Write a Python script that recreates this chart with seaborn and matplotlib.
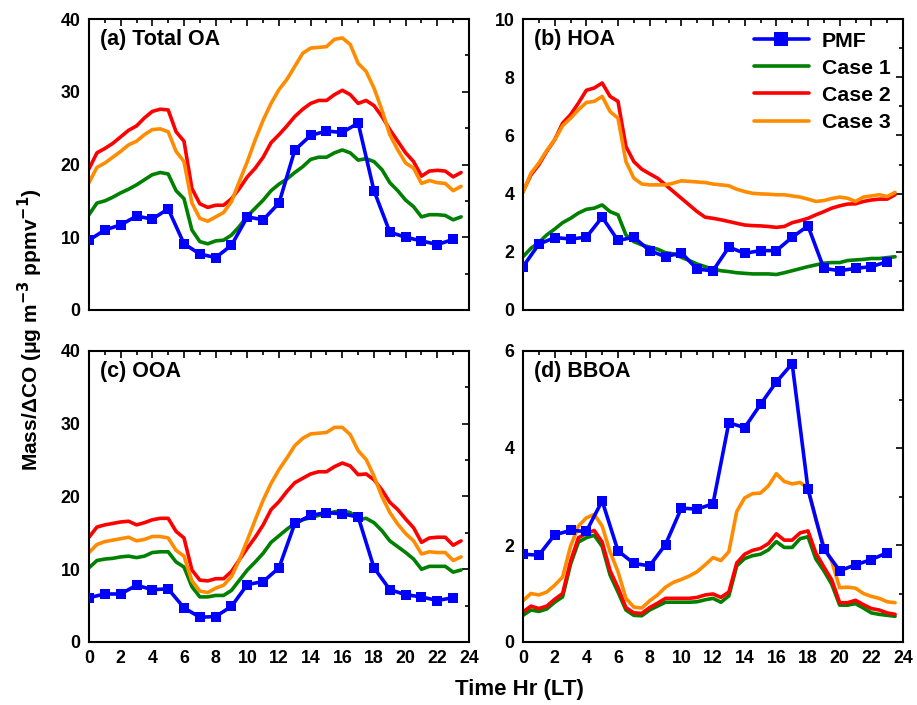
import numpy as np
import pandas as pd
import matplotlib
matplotlib.use("Agg")
import matplotlib.pyplot as plt
from matplotlib.ticker import MultipleLocator
import seaborn as sns

sns.set_theme(style="white")
plt.rcParams['font.family'] = ['Liberation Sans', 'DejaVu Sans']
plt.rcParams['font.weight'] = 'bold'
plt.rcParams['mathtext.default'] = 'bf'
plt.rcParams['text.color'] = 'black'
plt.rcParams['axes.labelcolor'] = 'black'

hours_pmf = list(range(24))
hours_case = [h / 2 for h in range(48)]

# (a) Total OA
oa_pmf = [9.6, 11.0, 11.7, 12.9, 12.5, 13.9, 9.1, 7.7, 7.2, 8.9, 12.8, 12.4, 14.7, 22.0,
          24.0, 24.6, 24.4, 25.7, 16.4, 10.7, 10.0, 9.5, 9.0, 9.7]
oa_c1 = [13.1, 14.7, 15.0, 15.5, 16.1, 16.6, 17.2, 17.9, 18.6, 18.9, 18.7, 16.4, 15.3, 11.0,
         9.4, 9.1, 9.5, 9.6, 10.3, 11.5, 12.9, 14.0, 15.1, 16.4, 17.3, 18.0, 18.9, 19.7,
         20.7, 21.0, 21.0, 21.6, 22.0, 21.6, 20.6, 20.8, 20.4, 19.3, 17.5, 16.4, 15.1, 14.2,
         12.8, 13.1, 13.1, 13.0, 12.4, 12.8]
oa_c2 = [19.4, 21.6, 22.2, 22.9, 23.8, 24.7, 25.3, 26.4, 27.3, 27.6, 27.5, 24.5, 23.2, 16.7,
         14.6, 14.1, 14.4, 14.4, 15.3, 16.7, 18.3, 19.5, 21.0, 23.0, 24.1, 25.3, 26.6, 27.6,
         28.4, 28.8, 28.8, 29.6, 30.2, 29.6, 28.4, 28.8, 28.1, 26.6, 24.8, 23.2, 21.6, 20.4,
         18.4, 19.1, 19.2, 19.1, 18.3, 18.9]
oa_c3 = [17.5, 19.6, 20.2, 21.0, 21.8, 22.7, 23.2, 24.1, 24.8, 24.9, 24.5, 21.8, 20.4, 14.7,
         12.6, 12.2, 12.8, 13.4, 14.9, 17.7, 20.4, 23.4, 26.1, 28.4, 30.3, 31.7, 33.5, 35.3,
         36.0, 36.1, 36.2, 37.2, 37.4, 36.5, 33.9, 32.8, 30.5, 27.5, 24.1, 22.0, 20.2, 19.5,
         17.4, 17.8, 17.5, 17.4, 16.4, 17.0]

# (b) HOA
hoa_pmf = [1.49, 2.26, 2.49, 2.44, 2.50, 3.19, 2.39, 2.50, 2.04, 1.83, 1.97, 1.40, 1.35, 2.16,
           1.95, 2.04, 2.04, 2.50, 2.89, 1.43, 1.35, 1.43, 1.49, 1.66]
hoa_c1 = [1.83, 2.12, 2.32, 2.58, 2.78, 3.00, 3.15, 3.33, 3.46, 3.50, 3.61, 3.38, 3.27, 2.58,
          2.35, 2.24, 2.16, 2.09, 1.97, 1.93, 1.81, 1.70, 1.58, 1.49, 1.40, 1.35, 1.32, 1.28,
          1.26, 1.24, 1.24, 1.24, 1.22, 1.28, 1.35, 1.42, 1.49, 1.55, 1.61, 1.63, 1.63, 1.70,
          1.72, 1.74, 1.77, 1.77, 1.80, 1.83]
hoa_c2 = [4.07, 4.64, 4.99, 5.45, 5.85, 6.42, 6.71, 7.11, 7.55, 7.63, 7.80, 7.34, 7.17, 5.62,
          5.10, 4.84, 4.68, 4.53, 4.30, 4.07, 3.84, 3.61, 3.38, 3.19, 3.15, 3.10, 3.04, 2.98,
          2.92, 2.90, 2.89, 2.87, 2.84, 2.87, 3.00, 3.07, 3.15, 3.27, 3.38, 3.50, 3.58, 3.64,
          3.65, 3.73, 3.78, 3.81, 3.81, 3.96]
hoa_c3 = [4.04, 4.70, 5.05, 5.48, 5.85, 6.33, 6.59, 6.88, 7.13, 7.17, 7.34, 6.82, 6.59, 5.10,
          4.53, 4.33, 4.30, 4.30, 4.30, 4.36, 4.44, 4.42, 4.40, 4.38, 4.33, 4.30, 4.27, 4.15,
          4.07, 4.01, 3.99, 3.98, 3.96, 3.96, 3.92, 3.88, 3.81, 3.73, 3.76, 3.83, 3.88, 3.84,
          3.73, 3.88, 3.92, 3.96, 3.90, 4.04]

# (c) OOA
ooa_pmf = [6.1, 6.6, 6.6, 7.8, 7.2, 7.3, 4.7, 3.4, 3.5, 4.9, 7.9, 8.3, 10.2, 16.3,
           17.4, 17.8, 17.6, 17.2, 10.2, 7.2, 6.5, 6.2, 5.7, 6.1]
ooa_c1 = [10.2, 11.2, 11.4, 11.5, 11.7, 11.8, 11.6, 11.8, 12.3, 12.4, 12.4, 11.0, 10.3, 7.6,
          6.2, 6.2, 6.4, 6.4, 7.1, 8.5, 9.9, 11.0, 12.2, 13.7, 14.6, 15.5, 16.3, 16.8,
          17.1, 17.4, 17.6, 17.9, 18.0, 17.8, 16.8, 17.0, 16.4, 15.3, 13.9, 13.1, 12.3, 11.4,
          10.0, 10.4, 10.4, 10.4, 9.6, 9.9]
ooa_c2 = [14.4, 15.8, 16.1, 16.3, 16.5, 16.6, 16.1, 16.4, 16.8, 17.0, 17.0, 15.2, 14.3, 9.9,
          8.5, 8.4, 8.7, 8.7, 9.7, 11.3, 12.9, 14.4, 16.1, 18.2, 19.3, 20.7, 21.9, 22.5,
          23.1, 23.4, 23.4, 24.1, 24.6, 24.2, 23.0, 23.1, 22.3, 20.9, 19.2, 18.2, 16.9, 15.7,
          13.7, 14.3, 14.4, 14.4, 13.3, 13.9]
ooa_c3 = [12.3, 13.4, 13.8, 14.0, 14.2, 14.4, 13.9, 14.1, 14.5, 14.5, 14.3, 12.6, 11.8, 8.4,
          7.0, 6.8, 7.4, 7.8, 9.0, 11.3, 14.0, 16.8, 19.5, 21.8, 23.7, 25.3, 27.0, 28.0,
          28.6, 28.7, 28.8, 29.5, 29.5, 28.5, 26.3, 25.1, 22.8, 20.0, 17.8, 16.2, 14.9, 13.9,
          12.1, 12.4, 12.3, 12.3, 11.2, 11.7]

# (d) BBOA
bboa_pmf = [1.81, 1.79, 2.21, 2.30, 2.28, 2.91, 1.88, 1.62, 1.57, 2.01, 2.76, 2.74, 2.85, 4.52,
            4.42, 4.90, 5.36, 5.74, 3.15, 1.92, 1.47, 1.59, 1.70, 1.84]
bboa_c1 = [0.55, 0.66, 0.63, 0.68, 0.82, 0.93, 1.60, 2.06, 2.15, 2.20, 1.97, 1.38, 1.03, 0.66,
           0.55, 0.54, 0.66, 0.74, 0.82, 0.82, 0.82, 0.82, 0.83, 0.87, 0.90, 0.82, 0.95, 1.57,
           1.72, 1.78, 1.81, 1.90, 2.07, 1.95, 1.95, 2.13, 2.17, 1.71, 1.47, 1.19, 0.76, 0.76,
           0.79, 0.70, 0.60, 0.57, 0.55, 0.53]
bboa_c2 = [0.62, 0.74, 0.69, 0.74, 0.88, 1.00, 1.66, 2.15, 2.24, 2.30, 2.06, 1.47, 1.12, 0.71,
           0.60, 0.59, 0.71, 0.80, 0.90, 0.90, 0.90, 0.90, 0.92, 0.97, 0.99, 0.92, 1.03, 1.63,
           1.81, 1.89, 1.93, 2.03, 2.23, 2.10, 2.10, 2.25, 2.29, 1.83, 1.55, 1.28, 0.81, 0.81,
           0.86, 0.77, 0.69, 0.66, 0.60, 0.57]
bboa_c3 = [0.85, 1.00, 0.97, 1.03, 1.17, 1.34, 1.97, 2.39, 2.56, 2.63, 2.39, 1.86, 1.45, 0.90,
           0.72, 0.70, 0.85, 0.97, 1.13, 1.23, 1.29, 1.36, 1.45, 1.59, 1.74, 1.68, 1.86, 2.69,
           2.97, 3.06, 3.07, 3.22, 3.47, 3.31, 3.26, 3.29, 3.17, 2.52, 1.98, 1.66, 1.12, 1.13,
           1.11, 1.00, 0.94, 0.90, 0.83, 0.81]

panels = [
    ("(a) Total OA", oa_pmf, oa_c1, oa_c2, oa_c3, 40, 10),
    ("(b) HOA", hoa_pmf, hoa_c1, hoa_c2, hoa_c3, 10, 2),
    ("(c) OOA", ooa_pmf, ooa_c1, ooa_c2, ooa_c3, 40, 10),
    ("(d) BBOA", bboa_pmf, bboa_c1, bboa_c2, bboa_c3, 6, 2),
]

C_PMF = "#0000FF"
C_1 = "#008000"
C_2 = "#FF0000"
C_3 = "#FF8C00"

W, H = 917, 705
fig = plt.figure(figsize=(W / 100, H / 100), dpi=100)
lefts = [89, 523]
tops = [19, 351]
aw, ah = 380, 291
axes = []
for r in range(2):
    for c in range(2):
        ax = fig.add_axes([lefts[c] / W, 1 - (tops[r] + ah) / H, aw / W, ah / H])
        axes.append(ax)

for i, (ax, (title, pmf, c1, c2, c3, ymax, ymaj)) in enumerate(zip(axes, panels)):
    lw = 2.6
    sns.lineplot(x=hours_case, y=c1, ax=ax, color=C_1, lw=lw, label="Case 1")
    sns.lineplot(x=hours_case, y=c2, ax=ax, color=C_2, lw=lw, label="Case 2")
    sns.lineplot(x=hours_case, y=c3, ax=ax, color=C_3, lw=lw, label="Case 3")
    sns.lineplot(x=hours_pmf, y=pmf, ax=ax, color=C_PMF, lw=lw, marker="s",
                 markersize=7.5, markeredgewidth=0, label="PMF", zorder=5)
    ax.set_xlim(0, 24)
    ax.set_ylim(0, ymax)
    ax.xaxis.set_major_locator(MultipleLocator(2))
    ax.xaxis.set_minor_locator(MultipleLocator(1))
    ax.yaxis.set_major_locator(MultipleLocator(ymaj))
    ax.yaxis.set_minor_locator(MultipleLocator(ymaj / 2))
    ax.tick_params(which="both", direction="in", top=True, right=True, labelsize=12.8,
                   width=1.2, colors="black")
    ax.tick_params(which="major", length=5)
    ax.tick_params(which="minor", length=3)
    ax.tick_params(axis="x", pad=6)
    ax.tick_params(axis="y", pad=6)
    for lab in ax.get_xticklabels() + ax.get_yticklabels():
        lab.set_fontweight("bold")
    for sp in ax.spines.values():
        sp.set_color("black")
        sp.set_linewidth(1.5)
    if i < 2:
        ax.tick_params(labelbottom=False)
    ax.set_xlabel("")
    ax.set_ylabel("")
    ax.text(0.03, 0.965, title, transform=ax.transAxes, ha="left", va="top",
            fontsize=15.5, fontweight="bold", color="black")
    if i == 1:
        handles, labels = ax.get_legend_handles_labels()
        order = [labels.index(n) for n in ["PMF", "Case 1", "Case 2", "Case 3"]]
        leg = ax.legend([handles[k] for k in order], [labels[k] for k in order],
                        loc="upper right", frameon=False, handlelength=2.6,
                        labelspacing=0.38, borderaxespad=0.2, handletextpad=0.6,
                        markerscale=1.4, prop={"weight": "bold", "size": 15.3})
        for t in leg.get_texts():
            t.set_color("black")
    else:
        lg = ax.get_legend()
        if lg:
            lg.remove()

fig.text(30 / W, 1 - 330 / H, "Mass/\u0394CO (\u03bcg m$^{-3}$ ppmv$^{-1}$)", rotation=90,
         ha="center", va="center", fontsize=15, fontweight="bold", color="black")
fig.text(519 / W, 1 - 690 / H, "Time Hr (LT)", ha="center", va="center",
         fontsize=16, fontweight="bold", color="black")

fig.savefig("out.png", dpi=100)
